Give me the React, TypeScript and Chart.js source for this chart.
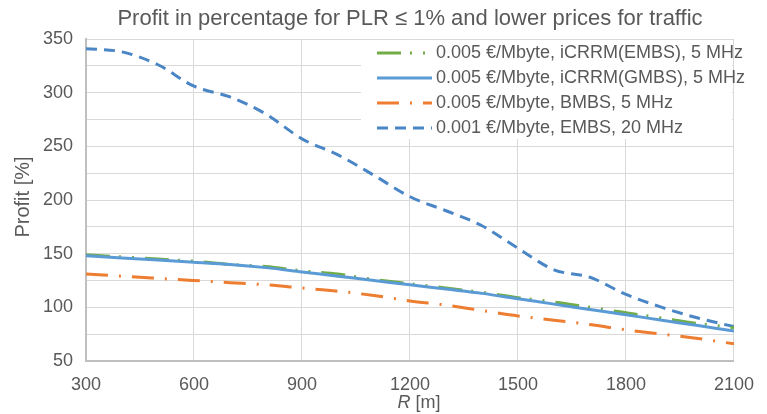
import React, { useEffect, useRef } from "react";
import { Chart, registerables } from "chart.js";

Chart.register(...registerables);

const TITLE = "Profit in percentage for PLR ≤ 1% and lower prices for traffic";
const Y_TITLE = "Profit [%]";
const X_TITLE_ITALIC = "R";
const X_TITLE_REST = " [m]";

const R_VALUES = [300, 400, 500, 600, 700, 800, 900, 1000, 1100, 1200, 1300, 1400, 1500, 1600, 1700, 1800, 1900, 2000, 2100];
const ICRRM_EMBS = [149, 147, 145, 143, 140, 138, 134, 131, 126, 122, 118, 114, 109, 105, 100, 95, 90, 85, 81];
const ICRRM_GMBS = [148, 146, 144, 142, 140, 137, 133, 129, 125, 121, 117, 113, 108, 103, 98, 93, 88, 83, 78];
const BMBS = [131, 129, 127, 125, 123, 121, 118, 115, 111, 106, 102, 97, 92, 88, 84, 79, 75, 71, 66];
const EMBS_20 = [341, 338, 326, 306, 296, 280, 257, 242, 223, 203, 190, 176, 155, 135, 128, 112, 100, 90, 82];

const SERIES_LABELS = [
  "0.005 €/Mbyte, iCRRM(EMBS), 5 MHz",
  "0.005 €/Mbyte, iCRRM(GMBS), 5 MHz",
  "0.005 €/Mbyte, BMBS, 5 MHz",
  "0.001 €/Mbyte, EMBS, 20 MHz",
];

const TEXT_COLOR = "#595959";
const FONT = "'Liberation Sans', Arial, Helvetica, sans-serif";

const toPoints = (ys: number[]) => ys.map((y, i) => ({ x: R_VALUES[i], y }));

const overlayPlugin = {
  id: "overlay",
  afterDraw(chart: any) {
    const ctx = chart.ctx as CanvasRenderingContext2D;
    const area = chart.chartArea;
    ctx.save();
    // Title
    ctx.fillStyle = TEXT_COLOR;
    ctx.font = `22px ${FONT}`;
    ctx.textAlign = "center";
    ctx.textBaseline = "middle";
    ctx.fillText(TITLE, 410, 19);

    // Y title
    ctx.save();
    ctx.translate(23, 197);
    ctx.rotate(-Math.PI / 2);
    ctx.font = `20px ${FONT}`;
    ctx.fillText(Y_TITLE, 0, 0);
    ctx.restore();

    // X title (italic R)
    ctx.font = `italic 18px ${FONT}`;
    const wR = ctx.measureText(X_TITLE_ITALIC).width;
    ctx.font = `18px ${FONT}`;
    const wRest = ctx.measureText(X_TITLE_REST).width;
    const cx = 419;
    const startX = cx - (wR + wRest) / 2;
    ctx.textAlign = "left";
    ctx.font = `italic 18px ${FONT}`;
    ctx.fillText(X_TITLE_ITALIC, startX, 403);
    ctx.font = `18px ${FONT}`;
    ctx.fillText(X_TITLE_REST, startX + wR, 403);

    // Legend
    const boxL = 361;
    const boxT = area.top + 1;
    const boxR = area.right - 2;
    const boxB = 139;
    ctx.fillStyle = "#ffffff";
    ctx.fillRect(boxL, boxT, boxR - boxL, boxB - boxT);
    const legendOrder = [0, 1, 2, 3];
    legendOrder.forEach((di, row) => {
      const ds = chart.data.datasets[di];
      const y = 53 + row * 25;
      ctx.save();
      ctx.beginPath();
      ctx.rect(377, y - 5, 55, 10);
      ctx.clip();
      ctx.strokeStyle = ds.borderColor;
      ctx.lineWidth = ds.borderWidth;
      ctx.lineCap = "butt";
      ctx.setLineDash(ds.borderDash || []);
      ctx.beginPath();
      ctx.moveTo(377, y);
      ctx.lineTo(432, y);
      ctx.stroke();
      ctx.restore();
      ctx.fillStyle = TEXT_COLOR;
      ctx.font = `18px ${FONT}`;
      ctx.textAlign = "left";
      ctx.textBaseline = "middle";
      ctx.fillText(ds.label, 436, y);
    });
    ctx.restore();
  },
};

export default function App() {
  const canvasRef = useRef<HTMLCanvasElement | null>(null);

  useEffect(() => {
    if (!canvasRef.current) return;
    const chart = new Chart(canvasRef.current, {
      type: "line",
      data: {
        datasets: [
          {
            label: SERIES_LABELS[0],
            data: toPoints(ICRRM_EMBS),
            borderColor: "#70AD47",
            borderWidth: 3,
            borderDash: [24, 9, 2, 11, 2, 11],
            pointRadius: 0,
            cubicInterpolationMode: "monotone",
            order: 2,
          },
          {
            label: SERIES_LABELS[1],
            data: toPoints(ICRRM_GMBS),
            borderColor: "#5B9BD5",
            borderWidth: 3,
            pointRadius: 0,
            cubicInterpolationMode: "monotone",
            order: 1,
          },
          {
            label: SERIES_LABELS[2],
            data: toPoints(BMBS),
            borderColor: "#ED7D31",
            borderWidth: 3,
            borderDash: [22, 11, 2, 11],
            pointRadius: 0,
            cubicInterpolationMode: "monotone",
            order: 3,
          },
          {
            label: SERIES_LABELS[3],
            data: toPoints(EMBS_20),
            borderColor: "#4A86C5",
            borderWidth: 3,
            borderDash: [11, 7],
            pointRadius: 0,
            cubicInterpolationMode: "monotone",
            order: 4,
          },
        ],
      },
      options: {
        animation: false,
        responsive: false,
        maintainAspectRatio: false,
        layout: { padding: { top: 39, right: 20, left: 0, bottom: 0 } },
        plugins: {
          legend: { display: false },
          title: { display: false },
          tooltip: { enabled: false },
        },
        scales: {
          x: {
            type: "linear",
            min: 300,
            max: 2100,
            afterFit: (scale: any) => {
              scale.height = 53;
            },
            ticks: {
              stepSize: 300,
              color: TEXT_COLOR,
              font: { family: FONT, size: 18 },
              padding: 13,
              maxRotation: 0,
              callback: (v: any) => String(v),
            },
            grid: { color: "#D9D9D9", lineWidth: 1, drawTicks: false },
            border: { color: "#BFBFBF", width: 2 },
          },
          y: {
            min: 50,
            max: 350,
            afterFit: (scale: any) => {
              scale.width = 86;
            },
            ticks: {
              stepSize: 25,
              color: TEXT_COLOR,
              font: { family: FONT, size: 18 },
              padding: 13,
              callback: (v: any) => (Number(v) % 50 === 0 ? String(v) : ""),
            },
            grid: { color: "#D9D9D9", lineWidth: 1, drawTicks: false },
            border: { color: "#BFBFBF", width: 2 },
          },
        },
      },
      plugins: [overlayPlugin],
    } as any);
    return () => chart.destroy();
  }, []);

  return (
    <div style={{ position: "fixed", left: 0, top: 0, width: 767, height: 414, background: "#fff" }}>
      <canvas ref={canvasRef} width={767} height={414} style={{ width: 767, height: 414 }} />
    </div>
  );
}
